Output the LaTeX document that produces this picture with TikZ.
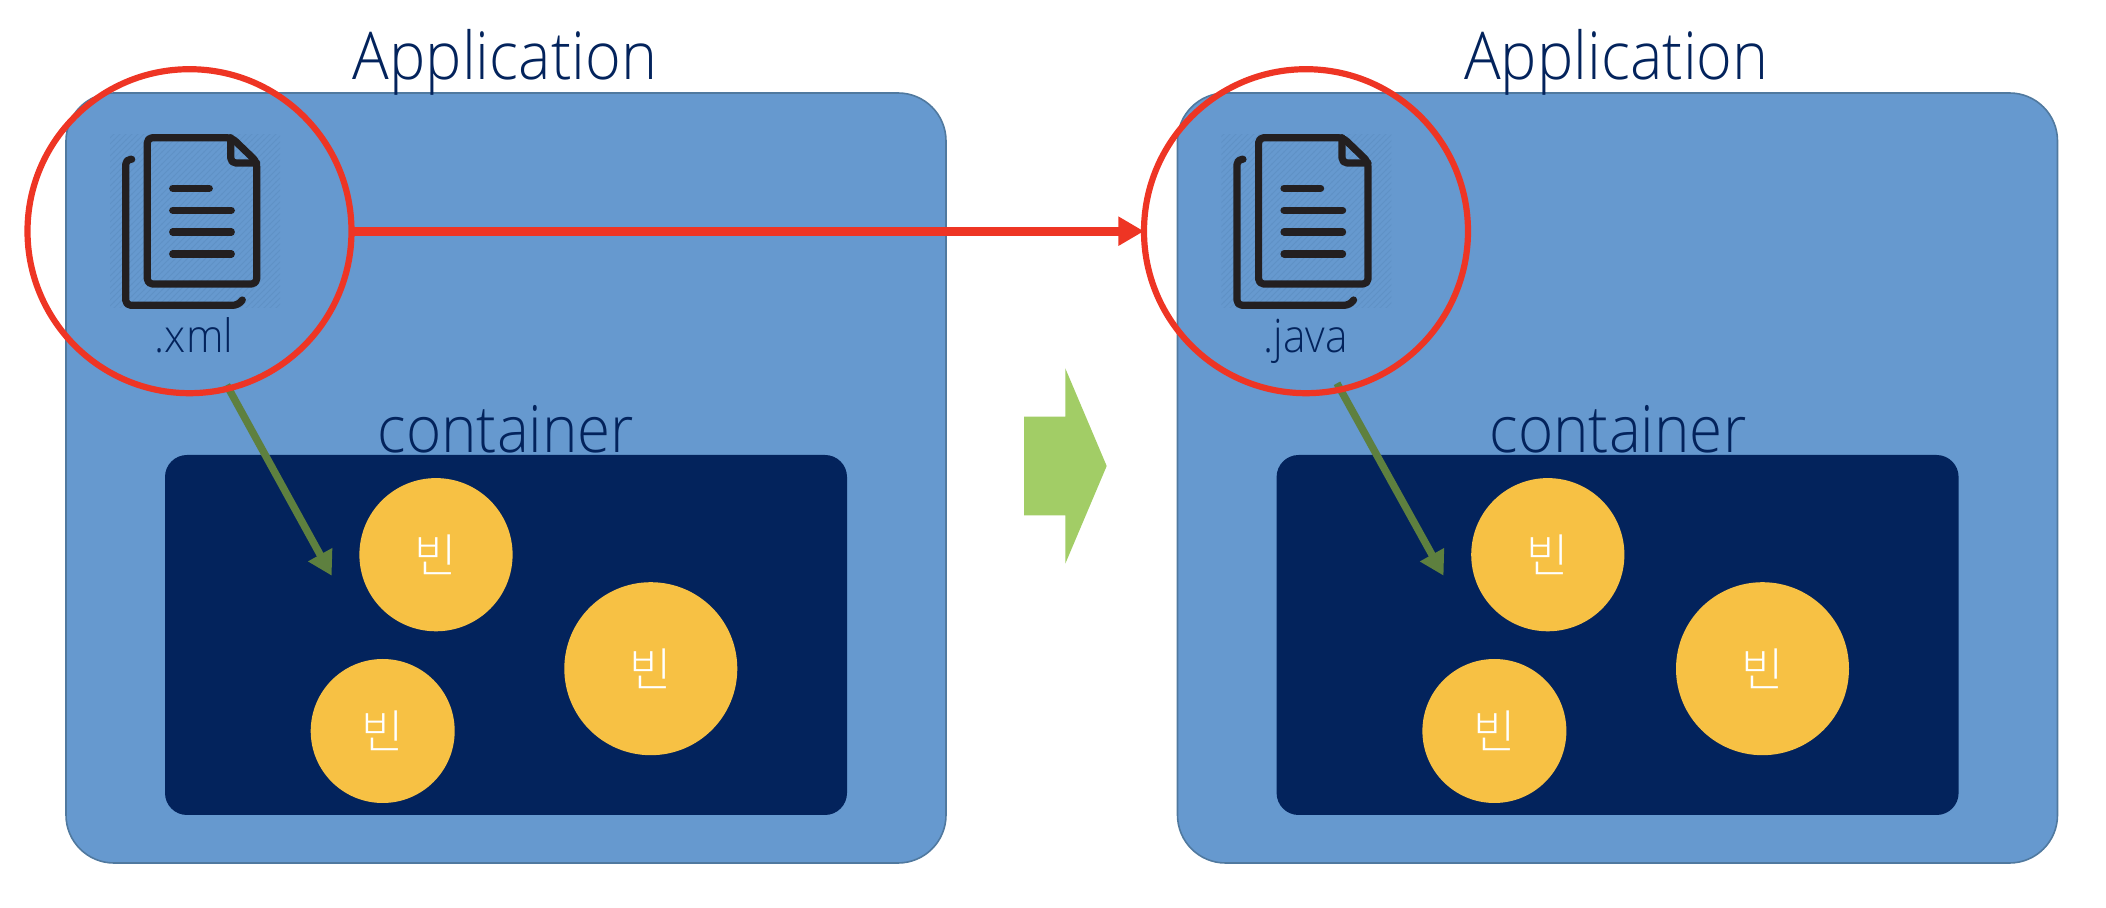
\documentclass[tikz,border=0pt]{standalone}
\usepackage{fontspec}
\setmainfont{Open Sans}[UprightFont={* Light},FakeStretch=0.925]
\newfontfamily\krfont{Noto Sans CJK KR}[UprightFont={* Light}]
\usepackage{pgf,tikz}
\usetikzlibrary{arrows.meta,patterns}
\definecolor{appblue}{HTML}{6699CF}
\definecolor{appedge}{HTML}{50799F}
\definecolor{navy}{HTML}{03235C}
\definecolor{ringred}{HTML}{EE3524}
\definecolor{beanyellow}{HTML}{F7C144}
\definecolor{linkgreen}{HTML}{5E803F}
\definecolor{blockgreen}{HTML}{A2CD66}
\definecolor{iconink}{HTML}{231F20}
\definecolor{iconshade}{HTML}{5F91C6}

\begin{document}
\begin{tikzpicture}[line cap=round,line join=round,x=0.5pt,y=-0.5pt,
  appbox/.style={draw=appedge,line width=0.8pt,fill=appblue,rounded corners=24pt,minimum width=440pt,minimum height=385pt,inner sep=0pt,outer sep=0pt},
  contbox/.style={fill=navy,rounded corners=11pt,minimum width=341pt,minimum height=180pt,inner sep=0pt,outer sep=0pt},
  bean/.style={circle,fill=beanyellow,text=white,inner sep=0pt,outer sep=0pt,font=\krfont\fontsize{23}{25}\selectfont},
  ring/.style={circle,draw=ringred,line width=3.1pt,minimum size=162pt,inner sep=0pt,outer sep=0pt},
  title/.style={anchor=base,text=navy,font=\fontsize{33}{36}\selectfont},
  contlabel/.style={anchor=base,text=navy,font=\fontsize{32.5}{36}\selectfont},
  ext/.style={anchor=base,text=navy,font=\fontsize{23}{25}\selectfont},
  ink/.style={draw=iconink,line width=3.6pt,rounded corners=2.5pt},
  shade/.style={pattern=north east lines,pattern color=iconshade},
  redlink/.style={draw=ringred,line width=4.5pt,line cap=butt,-{Triangle[length=12.8pt,width=13.8pt]}},
  greenlink/.style={draw=linkgreen,line width=3.7pt,line cap=butt,-{Triangle[length=12pt,width=13pt]}}]
\useasboundingbox (0,0) rectangle (2106,908);
% left side
\node[appbox] (appleft) at (506,478) {};
\node[title] (titleleft) at (505,80) {Application};
\fill[shade] (110,135) rectangle (280,308);
\draw[ink] (231.7,137.7) -- (147.3,137.7) -- (147.3,284) -- (256.7,284) -- (256.7,161.7) -- cycle;
\draw[ink] (230.7,137.7) -- (230.7,163) -- (256.7,163);
\draw[ink] (131.7,159.3) -- (125.7,159.3) -- (125.7,305.3) -- (238,305.3) -- (242.3,300);
\draw[ink] (172.7,188.3) -- (209.3,188.3);
\draw[ink] (172.7,210.3) -- (231.3,210.3);
\draw[ink] (172.7,232) -- (231.3,232);
\draw[ink] (172.7,254) -- (231.3,254);
\node[ext] (extleft) at (194,352.7) {.xml};
\node[contlabel] (contlabelleft) at (506,452.7) {container};
\node[contbox] (contleft) at (506,635) {};
\node[bean,minimum size=76.6pt] (beanleftA) at (436,554.7) {빈};
\node[bean,minimum size=86.5pt] (beanleftB) at (650.8,668.7) {빈};
\node[bean,minimum size=72pt] (beanleftC) at (382.7,731) {빈};
\coordinate (footleft) at (226.7,385);
\coordinate (targetleft) at (331.7,575.7);
\draw[greenlink] (footleft) -- (targetleft);
\node[ring] (ringleft) at (189.5,231.2) {};
% right side
\node[appbox] (appright) at (1617.5,478) {};
\node[title] (titleright) at (1616.5,80) {Application};
\fill[shade] (1221.3,135) rectangle (1391.3,308);
\draw[ink] (1343,137.7) -- (1258.6,137.7) -- (1258.6,284) -- (1368,284) -- (1368,161.7) -- cycle;
\draw[ink] (1342,137.7) -- (1342,163) -- (1368,163);
\draw[ink] (1243,159.3) -- (1237,159.3) -- (1237,305.3) -- (1349.3,305.3) -- (1353.6,300);
\draw[ink] (1284,188.3) -- (1320.6,188.3);
\draw[ink] (1284,210.3) -- (1342.6,210.3);
\draw[ink] (1284,232) -- (1342.6,232);
\draw[ink] (1284,254) -- (1342.6,254);
\node[ext] (extright) at (1305.7,353) {.java};
\node[contlabel] (contlabelright) at (1618,452.7) {container};
\node[contbox] (contright) at (1617.6,635) {};
\node[bean,minimum size=76.6pt] (beanrightA) at (1547.8,554.7) {빈};
\node[bean,minimum size=86.5pt] (beanrightB) at (1762.5,668.7) {빈};
\node[bean,minimum size=72pt] (beanrightC) at (1494.4,731) {빈};
\coordinate (footright) at (1337,383.3);
\coordinate (targetright) at (1443.6,575.7);
\draw[greenlink] (footright) -- (targetright);
\node[ring] (ringright) at (1306,231.2) {};
% between the two
\draw[redlink] (ringleft.east) -- (ringright.west);
\fill[blockgreen] (1024,416.7) -- (1065.3,416.7) -- (1065.3,368.3) -- (1106.7,466) -- (1065.3,563.7) -- (1065.3,515.3) -- (1024,515.3) -- cycle;
\end{tikzpicture}
\end{document}
